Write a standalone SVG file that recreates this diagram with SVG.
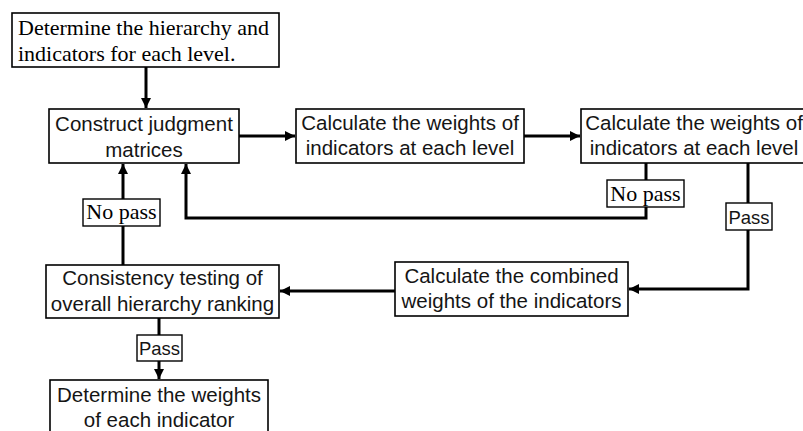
<svg xmlns="http://www.w3.org/2000/svg" width="803" height="431" viewBox="0 0 803 431">
<style>
.box{fill:#fff;stroke:#000;stroke-width:1.6}
.lbl{fill:#fff;stroke:#000;stroke-width:1.4}
.ser{font-family:"Liberation Serif","Times New Roman",serif;font-size:22px;fill:#000}
.mid{text-anchor:middle}
.san{font-family:"Liberation Sans",Arial,sans-serif;font-size:20.5px;fill:#151515;text-anchor:middle}
.sm{font-size:18.5px}
.con{fill:none;stroke:#000;stroke-width:3}
</style>
<defs>
<marker id="ah" markerUnits="userSpaceOnUse" markerWidth="12" markerHeight="12" refX="10" refY="5" orient="auto">
<path d="M0,0 L10,5 L0,10 z" fill="#000"/>
</marker>
</defs>
<g id="connectors">
<path class="con" d="M146,67 V108" marker-end="url(#ah)"/>
<path class="con" d="M239,136 H295" marker-end="url(#ah)"/>
<path class="con" d="M524,136 H580" marker-end="url(#ah)"/>
<path class="con" d="M646,163 V218 H186 V164" marker-end="url(#ah)"/>
<path class="con" d="M748,163 V289 H629" marker-end="url(#ah)"/>
<path class="con" d="M395,291 H280" marker-end="url(#ah)"/>
<path class="con" d="M123,265 V164" marker-end="url(#ah)"/>
<path class="con" d="M159,318 V379" marker-end="url(#ah)"/>
</g>
<g id="n1">
<rect class="box" x="12" y="13" width="267" height="54"/>
<text class="ser" x="18" y="35">Determine the hierarchy and</text>
<text class="ser" x="18" y="61">indicators for each level.</text>
</g>
<g id="n2">
<rect class="box" x="49" y="109" width="190" height="54"/>
<text class="san" x="144" y="131">Construct judgment</text>
<text class="san" x="144" y="157">matrices</text>
</g>
<g id="n3">
<rect class="box" x="296" y="109" width="228" height="54"/>
<text class="san" x="410" y="130">Calculate the weights of</text>
<text class="san" x="410" y="155">indicators at each level</text>
</g>
<g id="n4">
<rect class="box" x="581" y="109" width="226" height="54"/>
<text class="san" x="694" y="130">Calculate the weights of</text>
<text class="san" x="694" y="155">indicators at each level</text>
</g>
<g id="n5">
<rect class="box" x="395" y="262" width="233" height="54"/>
<text class="san" x="511.5" y="283">Calculate the combined</text>
<text class="san" x="511.5" y="308">weights of the indicators</text>
</g>
<g id="n6">
<rect class="box" x="46" y="265" width="233" height="53"/>
<text class="san" x="162.5" y="285">Consistency testing of</text>
<text class="san" x="162.5" y="311">overall hierarchy ranking</text>
</g>
<g id="n7">
<rect class="box" x="50" y="380" width="218" height="56"/>
<text class="san" x="159" y="402">Determine the weights</text>
<text class="san" x="159" y="427">of each indicator</text>
</g>
<g id="l1">
<rect class="lbl" x="83" y="199" width="77" height="27"/>
<text class="ser mid" x="121.5" y="219">No pass</text>
</g>
<g id="l2">
<rect class="lbl" x="607" y="180" width="77" height="27"/>
<text class="ser mid" x="645.5" y="201">No pass</text>
</g>
<g id="l3">
<rect class="lbl" x="726" y="203" width="46" height="27"/>
<text class="san sm" x="749" y="224">Pass</text>
</g>
<g id="l4">
<rect class="lbl" x="137" y="335" width="45" height="26"/>
<text class="san sm" x="159.5" y="355">Pass</text>
</g>
</svg>
